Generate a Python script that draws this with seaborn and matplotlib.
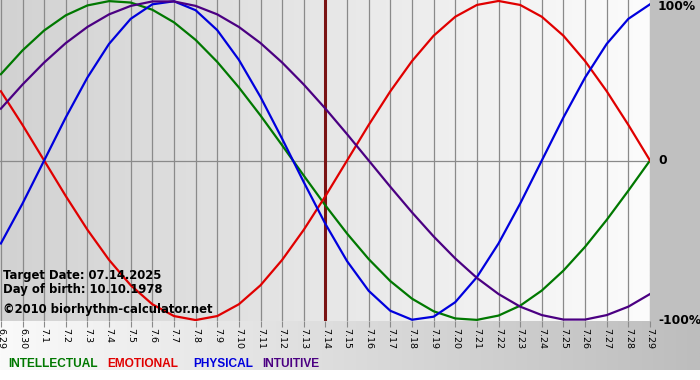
"""
Biorhythm chart, 6.29 - 7.29 (target date 07.14.2025, birth 10.10.1978)
"""

import matplotlib
matplotlib.use("Agg")

import matplotlib.pyplot as plt
import numpy as np
import pandas as pd
import seaborn as sns
from matplotlib.colors import LinearSegmentedColormap
from matplotlib.patches import Rectangle


DAYS = ["6.29", "6.30"] + [f"7.{d}" for d in range(1, 30)]

INTELLECTUAL = [
    0.541, 0.690, 0.815, 0.910, 0.972, 0.999, 0.990, 0.945, 0.866, 0.756,
    0.618, 0.458, 0.282, 0.095, -0.095, -0.282, -0.458, -0.618, -0.756, -0.866,
    -0.945, -0.990, -0.999, -0.972, -0.910, -0.815, -0.690, -0.541, -0.372, -0.189,
    0.0,
]
EMOTIONAL = [
    0.434, 0.223, 0.0, -0.223, -0.434, -0.623, -0.782, -0.901, -0.975, -1.0,
    -0.975, -0.901, -0.782, -0.623, -0.434, -0.223, 0.0, 0.223, 0.434, 0.623,
    0.782, 0.901, 0.975, 1.0, 0.975, 0.901, 0.782, 0.623, 0.434, 0.223,
    0.0,
]
PHYSICAL = [
    -0.520, -0.270, 0.0, 0.270, 0.520, 0.731, 0.888, 0.979, 0.998, 0.942,
    0.817, 0.631, 0.398, 0.136, -0.136, -0.398, -0.631, -0.817, -0.942, -0.998,
    -0.979, -0.888, -0.731, -0.520, -0.270, 0.0, 0.270, 0.520, 0.731, 0.888,
    0.979,
]
INTUITIVE = [
    0.325, 0.476, 0.614, 0.736, 0.837, 0.916, 0.969, 0.997, 0.997, 0.969,
    0.916, 0.837, 0.736, 0.614, 0.476, 0.325, 0.165, 0.0, -0.165, -0.325,
    -0.476, -0.614, -0.736, -0.837, -0.916, -0.969, -0.997, -0.997, -0.969, -0.916,
    -0.837,
]

SERIES = ["INTELLECTUAL", "EMOTIONAL", "PHYSICAL", "INTUITIVE"]
COLORS = {
    "INTELLECTUAL": "#007800",
    "EMOTIONAL": "#e00000",
    "PHYSICAL": "#0000dd",
    "INTUITIVE": "#4b0082",
}
TARGET_DAY = "7.14"
INFO_LINES = ["Target Date: 07.14.2025", "Day of birth: 10.10.1978"]
COPYRIGHT = "©2010 biorhythm-calculator.net"
Y_LABELS = {1.0: "100%", 0.0: "0", -1.0: "-100%"}

W, H = 700, 380
PLOT_RIGHT, PLOT_BOTTOM = 650, 321


def build_frame() -> pd.DataFrame:
    rows = []
    for name, values in zip(SERIES, [INTELLECTUAL, EMOTIONAL, PHYSICAL, INTUITIVE]):
        for i, v in enumerate(values):
            rows.append({"day": i, "value": v, "cycle": name})
    return pd.DataFrame(rows)


def draw_background(fig):
    bg = fig.add_axes([0, 0, 1, 1], zorder=-10)
    bg.set_xlim(0, W)
    bg.set_ylim(H, 0)
    bg.axis("off")
    strip = LinearSegmentedColormap.from_list("strip", ["#fafafa", "#bdbdbd"])
    bg.imshow(np.linspace(0, 1, 256).reshape(1, -1), cmap=strip, aspect="auto",
              extent=[0, W, 370, PLOT_BOTTOM], zorder=0)
    bg.add_patch(Rectangle((PLOT_RIGHT, 0), W - PLOT_RIGHT, PLOT_BOTTOM,
                           color="#c0c0c0", zorder=1, lw=0))

    # legend words along the bottom
    for name, x in zip(SERIES, [8, 107, 193, 262]):
        bg.text(x, 367, name, color=COLORS[name], fontsize=8.6,
                fontweight="bold", family="Liberation Sans", va="baseline")

    # right-hand scale labels
    for (val, label), ypix in zip(Y_LABELS.items(), [7, 161, 321]):
        bg.text(658, ypix, label, fontsize=8.8, fontweight="bold",
                family="DejaVu Sans", va="center", ha="left")
    return bg


def main():
    df = build_frame()
    fig = plt.figure(figsize=(W / 100, H / 100), dpi=100)
    fig.patch.set_facecolor("white")
    draw_background(fig)

    ax = fig.add_axes([0, 1 - PLOT_BOTTOM / H, PLOT_RIGHT / W, PLOT_BOTTOM / H])
    xlim = (-0.04, len(DAYS) - 1)
    ylim = (-1.006, 1.006)

    plot_bg = LinearSegmentedColormap.from_list("plotbg", ["#d2d2d2", "#fcfcfc"])
    ax.imshow(np.linspace(0, 1, 256).reshape(1, -1), cmap=plot_bg, aspect="auto",
              extent=[xlim[0], xlim[1], ylim[0], ylim[1]], zorder=0)

    for i in range(len(DAYS)):
        ax.axvline(i, color="#8a8a8a", lw=0.9, zorder=1)
    ax.axhline(0, color="#8a8a8a", lw=0.9, zorder=1)

    target = DAYS.index(TARGET_DAY)
    ax.axvline(target, color="#7a1414", lw=2.2, zorder=2)

    sns.lineplot(data=df, x="day", y="value", hue="cycle", palette=COLORS,
                 hue_order=SERIES, lw=1.6, ax=ax, legend=False, zorder=3,
                 estimator=None, sort=True, solid_joinstyle="round")

    ax.set_xlim(*xlim)
    ax.set_ylim(*ylim)
    ax.set_xticks(range(len(DAYS)))
    ax.set_xticklabels(DAYS, rotation=270, fontsize=6.8, family="DejaVu Sans")
    ax.set_yticks([])
    ax.tick_params(axis="x", length=4, color="#8a8a8a", pad=1)
    ax.set_xlabel("")
    ax.set_ylabel("")
    for spine in ax.spines.values():
        spine.set_visible(False)

    to_fig = lambda px, py: (px / W, 1 - py / H)
    for line, py in zip(INFO_LINES, [279, 293]):
        fig.text(*to_fig(3, py), line, fontsize=8.4, fontweight="bold",
                 family="DejaVu Sans", va="baseline", zorder=5)
    fig.text(*to_fig(3, 313), COPYRIGHT, fontsize=8.4, fontweight="bold",
             family="DejaVu Sans", va="baseline", zorder=5)

    fig.savefig("out.png", dpi=100)


if __name__ == "__main__":
    main()
